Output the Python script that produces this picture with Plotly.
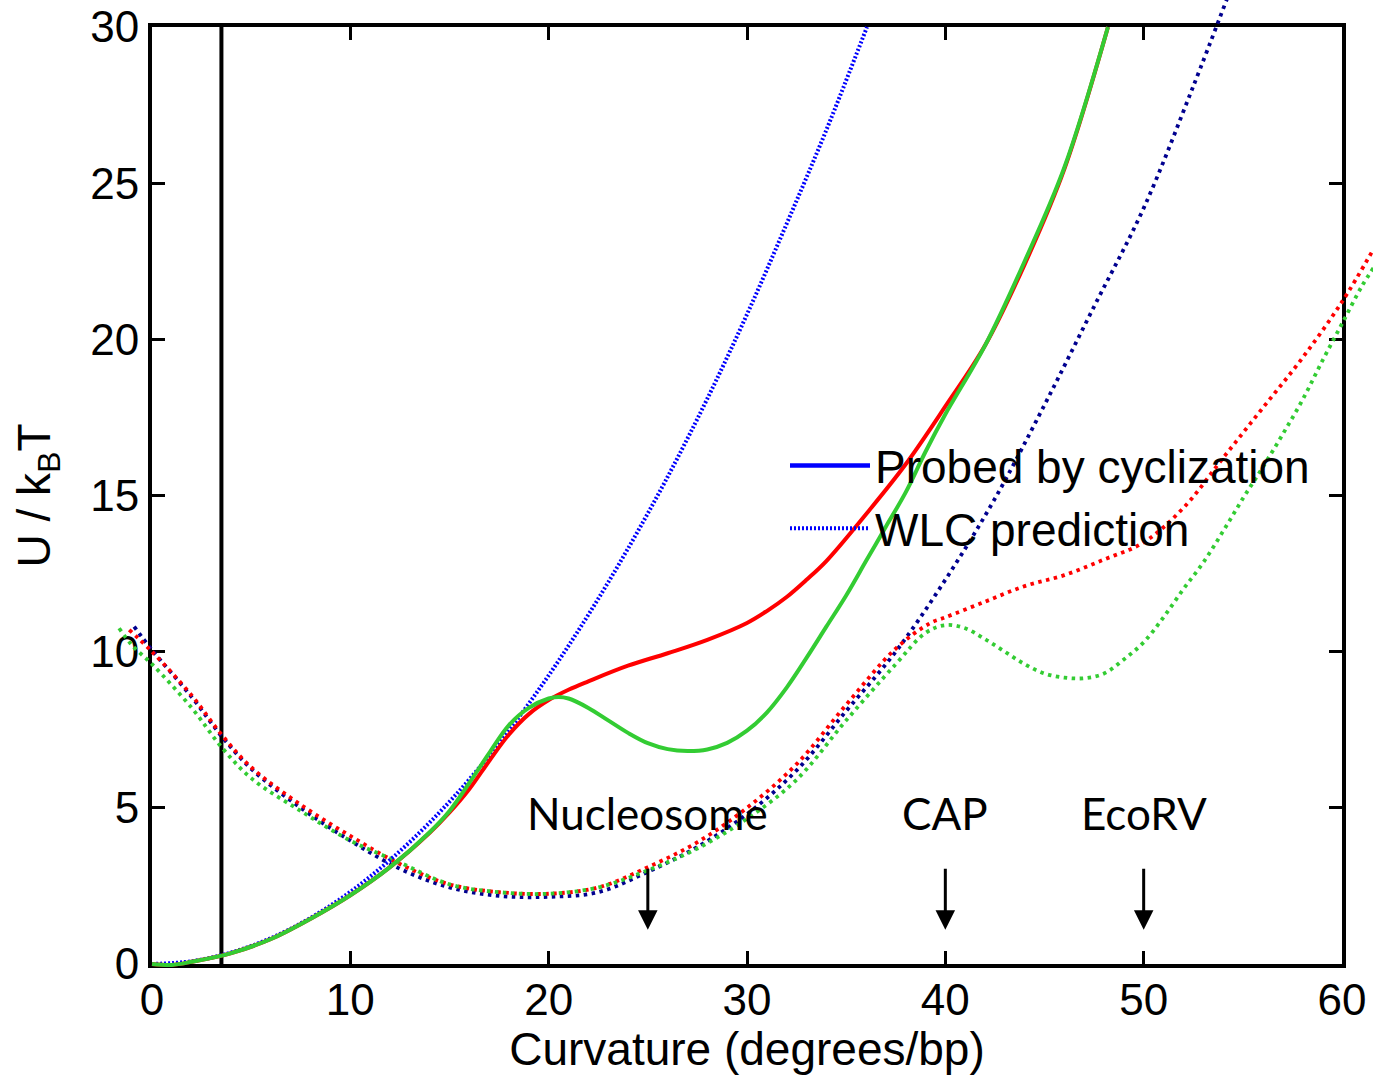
import plotly.graph_objects as go

# ---------------- data ----------------
wlc_x = [0, 2, 4, 6, 8, 10, 12, 14, 16, 18, 20, 22, 24, 26, 28, 30, 32, 34, 36.05]
wlc_u = [0, 0.09, 0.37, 0.83, 1.48, 2.31, 3.33, 4.53, 5.91, 7.48, 9.24, 11.18, 13.3, 15.6, 18.1, 20.8, 23.7, 26.7, 30.0]

red_x = [0, 1, 2, 4, 6, 8, 10, 12, 14, 15, 16, 17, 18, 19, 20, 21, 22, 24, 26, 28, 30, 31, 32, 33, 34, 36, 38, 40, 42, 44, 46, 48.2]
red_u = [0, -0.03, 0.07, 0.35, 0.8, 1.45, 2.2, 3.1, 4.2, 4.85, 5.6, 6.5, 7.35, 8.0, 8.45, 8.78, 9.05, 9.55, 9.95, 10.38, 10.92, 11.3, 11.75, 12.3, 12.9, 14.4, 16.0, 17.85, 19.8, 22.4, 25.45, 30.0]

green_x = [0, 1, 2, 4, 6, 8, 10, 12, 14, 15, 16, 17, 18, 19, 20, 20.5, 21, 22, 23, 24, 25, 26, 27, 28, 29, 30,
           31, 32, 33, 34, 35, 36, 37, 38, 39, 40, 42, 44, 46, 48.2]
green_u = [0, -0.03, 0.07, 0.35, 0.8, 1.45, 2.2, 3.1, 4.22, 4.9, 5.8, 6.75, 7.65, 8.2, 8.5, 8.55, 8.5, 8.2, 7.8, 7.4, 7.07, 6.88, 6.82, 6.87, 7.08, 7.47,
           8.05, 8.85, 9.8, 10.8, 11.8, 12.9, 14.0, 15.1, 16.4, 17.6, 19.8, 22.5, 25.5, 30.0]

navy_x = [-0.9, 0, 2, 3.5, 5, 7.5, 10, 12.5, 15, 17.5, 20, 22.5, 25, 27.5, 30, 32.5, 35, 37.5, 40, 42.5, 45, 47.5, 50, 52.5, 54.2]
navy_u = [10.8, 10.05, 8.55, 7.3, 6.25, 5.0, 3.95, 3.05, 2.45, 2.18, 2.15, 2.3, 2.95, 3.75, 4.8, 6.2, 8.1, 10.0, 12.3, 14.9, 17.9, 21.05, 24.2, 28.1, 30.9]

reddot_x = [-1.15, 0, 2, 3.5, 5, 7.5, 10, 12.5, 15, 17.5, 20, 22.5, 25, 27.5, 30, 32.5, 35, 37.5, 39.2, 40, 42, 44, 46, 48, 50,
            52, 54, 56, 58, 60, 61.6]
reddot_u = [10.7, 10.0, 8.6, 7.35, 6.3, 5.1, 4.1, 3.2, 2.55, 2.3, 2.25, 2.45, 3.1, 3.9, 5.0, 6.4, 8.3, 10.1, 10.9, 11.1, 11.6, 12.1, 12.45, 12.95, 13.5,
            14.6, 16.2, 17.8, 19.4, 21.2, 22.9]

greendot_x = [-1.66, -1, 0, 2, 3.5, 5, 7.5, 10, 12.5, 15, 17.5, 20, 22.5, 25, 27.5, 30, 32.5, 35, 37.5, 39, 40, 41, 42, 43, 44, 45,
              46, 47, 48, 49, 50, 51, 52, 53, 54, 55, 56, 57, 58, 59, 60, 61, 61.6]
greendot_u = [10.75, 10.2, 9.6, 8.2, 6.95, 5.95, 4.9, 3.95, 3.25, 2.55, 2.3, 2.25, 2.45, 3.0, 3.7, 4.65, 5.9, 7.8, 9.6, 10.6, 10.85, 10.75, 10.4, 10.0, 9.6, 9.3,
              9.17, 9.15, 9.3, 9.75, 10.3, 11.1, 12.0, 12.85, 13.85, 14.9, 15.9, 16.95, 18.05, 19.3, 20.5, 21.7, 22.3]

cutoff_x = [3.5, 3.5]
cutoff_u = [0, 30]

site_names = ["Nucleosome", "CAP", "EcoRV"]
site_x = [25, 40, 50]
label_u = 4.85
arrow_top_u = 3.1
arrow_tip_u = 1.1

x_ticks = [0, 10, 20, 30, 40, 50, 60]
y_ticks = [0, 5, 10, 15, 20, 25, 30]
x_range = [0, 60]
y_range = [0, 30]

# ---------------- layout geometry ----------------
W, H = 1373, 1075
L_px, R_px, T_px, B_px = 152, 1342, 27, 964
dx0, dx1 = L_px / W, R_px / W
dy0, dy1 = 1 - B_px / H, 1 - T_px / H

# overlay axes span the whole figure so curves can run past the frame, as in the original
sx = (x_range[1] - x_range[0]) / (dx1 - dx0)
x2_range = [x_range[0] - dx0 * sx, x_range[1] + (1 - dx1) * sx]
sy = (y_range[1] - y_range[0]) / (dy1 - dy0)
y2_range = [y_range[0] - dy0 * sy, y_range[1] + (1 - dy1) * sy]

ARIAL = "Liberation Sans, Arial, sans-serif"
RED = "#FF0000"
GREEN = "#33CC33"
NAVY = "#00008F"
BLUE = "#0000FF"

fig = go.Figure()

# cutoff line on main axes
fig.add_trace(go.Scatter(x=cutoff_x, y=cutoff_u, mode="lines", line=dict(color="black", width=4),
                         showlegend=False, hoverinfo="skip", xaxis="x", yaxis="y"))

dot_dash = "3.5px,4.5px"
dot_w = 3.8
fig.add_trace(go.Scatter(x=navy_x, y=navy_u, mode="lines", line=dict(color=NAVY, width=dot_w, dash=dot_dash, shape="spline"),
                         showlegend=False, xaxis="x2", yaxis="y2"))
fig.add_trace(go.Scatter(x=reddot_x, y=reddot_u, mode="lines", line=dict(color=RED, width=dot_w, dash=dot_dash, shape="spline"),
                         showlegend=False, xaxis="x2", yaxis="y2"))
fig.add_trace(go.Scatter(x=greendot_x, y=greendot_u, mode="lines", line=dict(color=GREEN, width=dot_w, dash=dot_dash, shape="spline"),
                         showlegend=False, xaxis="x2", yaxis="y2"))
wlc_dash = "2px,2px"
fig.add_trace(go.Scatter(x=wlc_x, y=wlc_u, mode="lines", line=dict(color=BLUE, width=4, dash=wlc_dash, shape="spline"),
                         showlegend=False, xaxis="x2", yaxis="y2"))
fig.add_trace(go.Scatter(x=red_x, y=red_u, mode="lines", line=dict(color=RED, width=4, shape="spline"),
                         showlegend=False, xaxis="x2", yaxis="y2"))
fig.add_trace(go.Scatter(x=green_x, y=green_u, mode="lines", line=dict(color=GREEN, width=4, shape="spline"),
                         showlegend=False, xaxis="x2", yaxis="y2"))

# legend entries
fig.add_trace(go.Scatter(x=[None], y=[None], mode="lines", line=dict(color=BLUE, width=4.5),
                         name="Probed by cyclization", xaxis="x", yaxis="y"))
fig.add_trace(go.Scatter(x=[None], y=[None], mode="lines", line=dict(color=BLUE, width=4, dash=wlc_dash),
                         name="WLC prediction", xaxis="x", yaxis="y"))

annotations = []
for name, sxv in zip(site_names, site_x):
    annotations.append(dict(x=sxv, y=label_u, xref="x", yref="y", text=name, showarrow=False,
                            font=dict(family="Lato, Open Sans, sans-serif", size=44, color="black"),
                            xanchor="center", yanchor="middle"))
    annotations.append(dict(x=sxv, y=arrow_tip_u, xref="x", yref="y", ax=sxv, ay=arrow_top_u,
                            axref="x", ayref="y", text="", showarrow=True, arrowhead=2,
                            arrowsize=1.3, arrowwidth=3, arrowcolor="black", standoff=0))

axis_common = dict(showgrid=False, zeroline=False, showline=True, linecolor="black", linewidth=4,
                   ticks="inside", ticklen=13, tickwidth=3, tickcolor="black", mirror="ticks",
                   tickfont=dict(family=ARIAL, size=44, color="black"), automargin=False)

fig.update_layout(
    width=W, height=H,
    margin=dict(l=0, r=0, t=0, b=0),
    paper_bgcolor="white", plot_bgcolor="rgba(0,0,0,0)",
    xaxis=dict(domain=[dx0, dx1], range=x_range, tickvals=x_ticks, anchor="y", ticklabelstandoff=-6,
               title=dict(text="Curvature (degrees/bp)", font=dict(family=ARIAL, size=46, color="black"), standoff=10),
               **axis_common),
    yaxis=dict(domain=[dy0, dy1], range=y_range, tickvals=y_ticks, anchor="x",
               title=dict(text="U / k<sub>B</sub>T", font=dict(family=ARIAL, size=46, color="black"), standoff=26),
               **axis_common),
    xaxis2=dict(domain=[0, 1], range=x2_range, anchor="y2", visible=False, fixedrange=True),
    yaxis2=dict(domain=[0, 1], range=y2_range, anchor="x2", visible=False, fixedrange=True),
    legend=dict(x=785 / W, y=1 - 429 / H, xanchor="left", yanchor="top", bgcolor="rgba(0,0,0,0)",
                font=dict(family=ARIAL, size=46, color="black"), itemwidth=80, tracegroupgap=0),
    annotations=annotations,
    showlegend=True,
)

fig.write_html("out.html")
